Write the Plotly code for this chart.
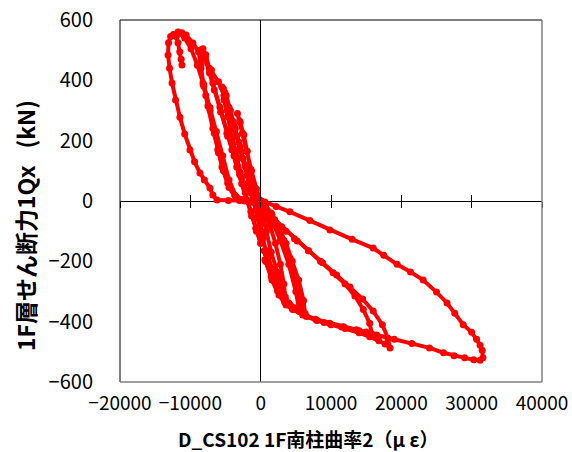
import plotly.graph_objects as go

# ---- data (curvature in micro-strain, shear in kN) ----
c1_x = [0, 300, 800, 1500, 2300, 3000, 3500, 3300, 2800, 2100, 1300, 600, 0,
        -600, -1300, -2000, -2600, -3000, -3300, -2900, -2400, -1900, -1400, -900, -400, 100]
c1_y = [0, -40, -100, -170, -235, -285, -318, -275, -210, -140, -80, -35, 0,
        40, 100, 165, 225, 265, 290, 260, 220, 165, 105, 45, -15, -75]

c2_x = [300, 1000, 1800, 2600, 3400, 4200, 5000, 5800, 5600, 5000, 4200, 3300, 2400, 1500, 700, 0,
        -900, -1900, -2700, -3400, -4100, -4700, -5200, -5500, -5100, -4500, -3800, -3100, -2500,
        -1900, -1300, -700, -100]
c2_y = [-125, -185, -240, -290, -325, -345, -356, -362, -320, -255, -190, -130, -80, -40, -15, 0,
        10, 30, 80, 145, 215, 280, 335, 378, 360, 310, 250, 195, 140, 85, 30, -30, -95]

c3_x = [500, 1300, 2200, 3100, 4000, 4900, 5700, 6300, 6100, 5400, 4500, 3600, 2600, 1600, 700, 0,
        -1000, -2000, -2900, -3600, -4300, -4800, -5200, -5300, -4900, -4300, -3600, -2900, -2200,
        -1600, -1000, -400, 200]
c3_y = [-165, -220, -270, -310, -338, -355, -366, -372, -330, -262, -200, -140, -88, -45, -15, 0,
        15, 35, 95, 165, 240, 300, 350, 372, 350, 300, 240, 180, 120, 65, 10, -50, -110]

c4_x = [800, 1600, 2500, 3500, 4600, 6000, 7800, 9800, 11800, 13600, 15000, 15800,
        15500, 14600, 13400, 12000, 10300, 8500, 6800, 5200, 3600, 2000, 700,
        0, -1200, -2500, -3700, -4700, -5500, -6100, -6600, -7200, -7800, -8200, -8500, -8600,
        -8200, -7800, -7300, -6800, -5800, -4800, -4100, -3400, -2700, -1950, -1300, -600, 0]
c4_y = [-165, -225, -280, -325, -355, -375, -392, -405, -417, -427, -434, -440,
        -405, -360, -315, -275, -238, -200, -165, -133, -100, -62, -25,
        -5, 0, 5, 20, 60, 113, 170, 225, 300, 350, 391, 450, 500,
        505, 485, 440, 391, 312, 225, 170, 113, 57, 3, -50, -100, -140]

c5_x = [600, 1500, 2400, 3400, 4500, 6000, 8000, 10000, 12000, 14000, 15500, 16800, 17700, 18400,
        18100, 17300, 16000, 14500, 12700, 10800, 8800, 6800, 4800, 3000, 1400, 300,
        -1000, -2300, -3500, -4500, -5300, -6000, -6800, -7500, -8100, -8500, -8800,
        -8400, -7900, -7300, -6600, -5700, -4700, -3800, -3000, -2200, -1400, -700, 0]
c5_y = [-195, -250, -298, -335, -358, -378, -396, -410, -423, -437, -450, -463, -474, -487,
        -455, -410, -365, -325, -285, -245, -205, -165, -125, -85, -45, -12,
        -5, 0, 8, 45, 100, 160, 240, 315, 380, 440, 495,
        502, 475, 425, 368, 295, 215, 150, 88, 28, -35, -90, -140]

c6_x = [700, 1600, 2600, 3600, 4600, 5500, 5000, 4000, 2800, 1500, 500,
        -1000, -2300, -3500, -4500, -5400, -6300, -7200, -8100, -9000, -9900, -10800, -11400, -11760,
        -11200, -10600, -9640, -8800, -8000, -7000, -6000, -5200, -4600, -4000, -3400, -2800, -2200,
        -1600, -1000, -400, 200]
c6_y = [-200, -262, -312, -345, -360, -366, -300, -210, -130, -60, -15,
        0, 3, 15, 70, 150, 230, 310, 385, 450, 505, 540, 555, 560,
        558, 550, 524, 495, 470, 434, 395, 350, 312, 265, 215, 165, 115, 60, 5, -55, -115]

c7_x = [800, 1600, 2500, 3500, 4700, 6500, 9000, 11500, 14000, 16500, 19000, 21500, 24000, 26000,
        27500, 29000, 30300, 31200, 31600,
        31500, 31200, 30700, 30000, 28800, 27600, 26500, 25000, 23100, 21300, 19400, 17500, 16000,
        13000, 9850, 7000, 4160, 2200, 600]
c7_y = [-175, -235, -290, -330, -360, -383, -403, -418, -430, -444, -458, -472, -487, -503,
        -513, -520, -526, -528, -520,
        -495, -478, -458, -435, -410, -372, -338, -302, -262, -235, -210, -180, -156,
        -127, -96, -65, -36, -18, -3]

c8_x = [0, -1500, -3000, -4600, -6200, -6800, -7210, -8000, -8630, -9400, -10050, -10800, -11480,
        -12100, -12600, -12950, -13170, -13100, -12800, -12400, -12000, -11760, -11500, -11300, -11190]
c8_y = [0, 0, 2, 2, 3, 20, 43, 70, 93, 130, 169, 222, 278,
        335, 391, 440, 484, 525, 545, 552, 545, 525, 495, 470, 451]

cycles = [(c1_x, c1_y), (c2_x, c2_y), (c3_x, c3_y), (c4_x, c4_y),
          (c5_x, c5_y), (c6_x, c6_y), (c7_x, c7_y), (c8_x, c8_y)]

x_ticks = [-20000, -10000, 0, 10000, 20000, 30000, 40000]
x_tick_text = ["\u221220000", "\u221210000", "0", "10000", "20000", "30000", "40000"]
y_ticks = [-600, -400, -200, 0, 200, 400, 600]
y_tick_text = ["\u2212600", "\u2212400", "\u2212200", "0", "200", "400", "600"]

x_title = "D_CS102 1F南柱曲率2（μ ε）"
y_title = "1F層せん断力1Qx\u2002 (kN)"

FONT = "Noto Sans CJK JP"
RED = "#FF0000"

fig = go.Figure()
for cx, cy in cycles:
    fig.add_trace(go.Scatter(
        x=cx, y=cy, mode="lines+markers",
        line=dict(color=RED, width=4),
        marker=dict(color=RED, size=7),
        showlegend=False, hoverinfo="skip"))

# dummy traces so the tick-only overlay axes are drawn
for ax in ("x2", "x3"):
    fig.add_trace(go.Scatter(x=[None], y=[None], xaxis=ax, yaxis="y",
                             showlegend=False, hoverinfo="skip"))

xr = [x_ticks[0], x_ticks[-1]]
yr = [y_ticks[0], y_ticks[-1]]

fig.update_layout(
    width=572, height=452,
    margin=dict(l=120, r=30, t=20, b=70, autoexpand=False),
    paper_bgcolor="white", plot_bgcolor="white",
    font=dict(family=FONT, color="black", size=20),
    xaxis=dict(range=xr, tickvals=x_ticks, ticktext=x_tick_text, showgrid=False,
               zeroline=True, zerolinecolor="black", zerolinewidth=1, automargin=False,
               showline=False, ticks="", ticklabelstandoff=8, ticklabeloverflow="allow",
               tickfont=dict(family=FONT, size=19, color="black")),
    yaxis=dict(range=yr, tickvals=y_ticks, ticktext=y_tick_text, showgrid=False,
               zeroline=True, zerolinecolor="black", zerolinewidth=1, automargin=False,
               showline=False, ticks="", ticklabelstandoff=26, ticklabeloverflow="allow",
               tickfont=dict(family=FONT, size=20, color="black")),
    xaxis2=dict(range=xr, tickvals=x_ticks, overlaying="x", anchor="free", position=0.5,
                side="bottom", ticks="outside", ticklen=6, tickcolor="black", tickwidth=1,
                showticklabels=False, showgrid=False, zeroline=False, showline=False,
                automargin=False),
    xaxis3=dict(range=xr, tickvals=x_ticks, overlaying="x", anchor="free", position=0.5,
                side="bottom", ticks="inside", ticklen=6, tickcolor="black", tickwidth=1,
                showticklabels=False, showgrid=False, zeroline=False, showline=False,
                automargin=False),
    shapes=[
        dict(type="line", xref="paper", yref="paper", x0=0, x1=1, y0=1, y1=1,
             line=dict(color="black", width=1)),
        dict(type="line", xref="paper", yref="paper", x0=0, x1=0, y0=0, y1=1,
             line=dict(color="black", width=1)),
        dict(type="line", xref="paper", yref="paper", x0=1, x1=1, y0=0, y1=1,
             line=dict(color="#808080", width=1.5)),
        dict(type="line", xref="paper", yref="paper", x0=0, x1=1, y0=0, y1=0,
             line=dict(color="#808080", width=1.5)),
    ],
    annotations=[
        dict(text="<b>" + x_title + "</b>", xref="paper", yref="paper",
             x=0.4455, y=-0.155, xanchor="center", yanchor="middle", showarrow=False,
             font=dict(family=FONT, size=19, color="black")),
        dict(text="<b>" + y_title + "</b>", xref="paper", yref="paper",
             x=-0.225, y=0.431, xanchor="center", yanchor="middle", showarrow=False,
             textangle=-90, font=dict(family=FONT, size=23, color="black")),
    ],
)

# remove the browser's default 8px page margin so the figure fills the window
fig.write_html("out.html", config={"displayModeBar": False},
               post_script="document.body.style.margin='0px';")
